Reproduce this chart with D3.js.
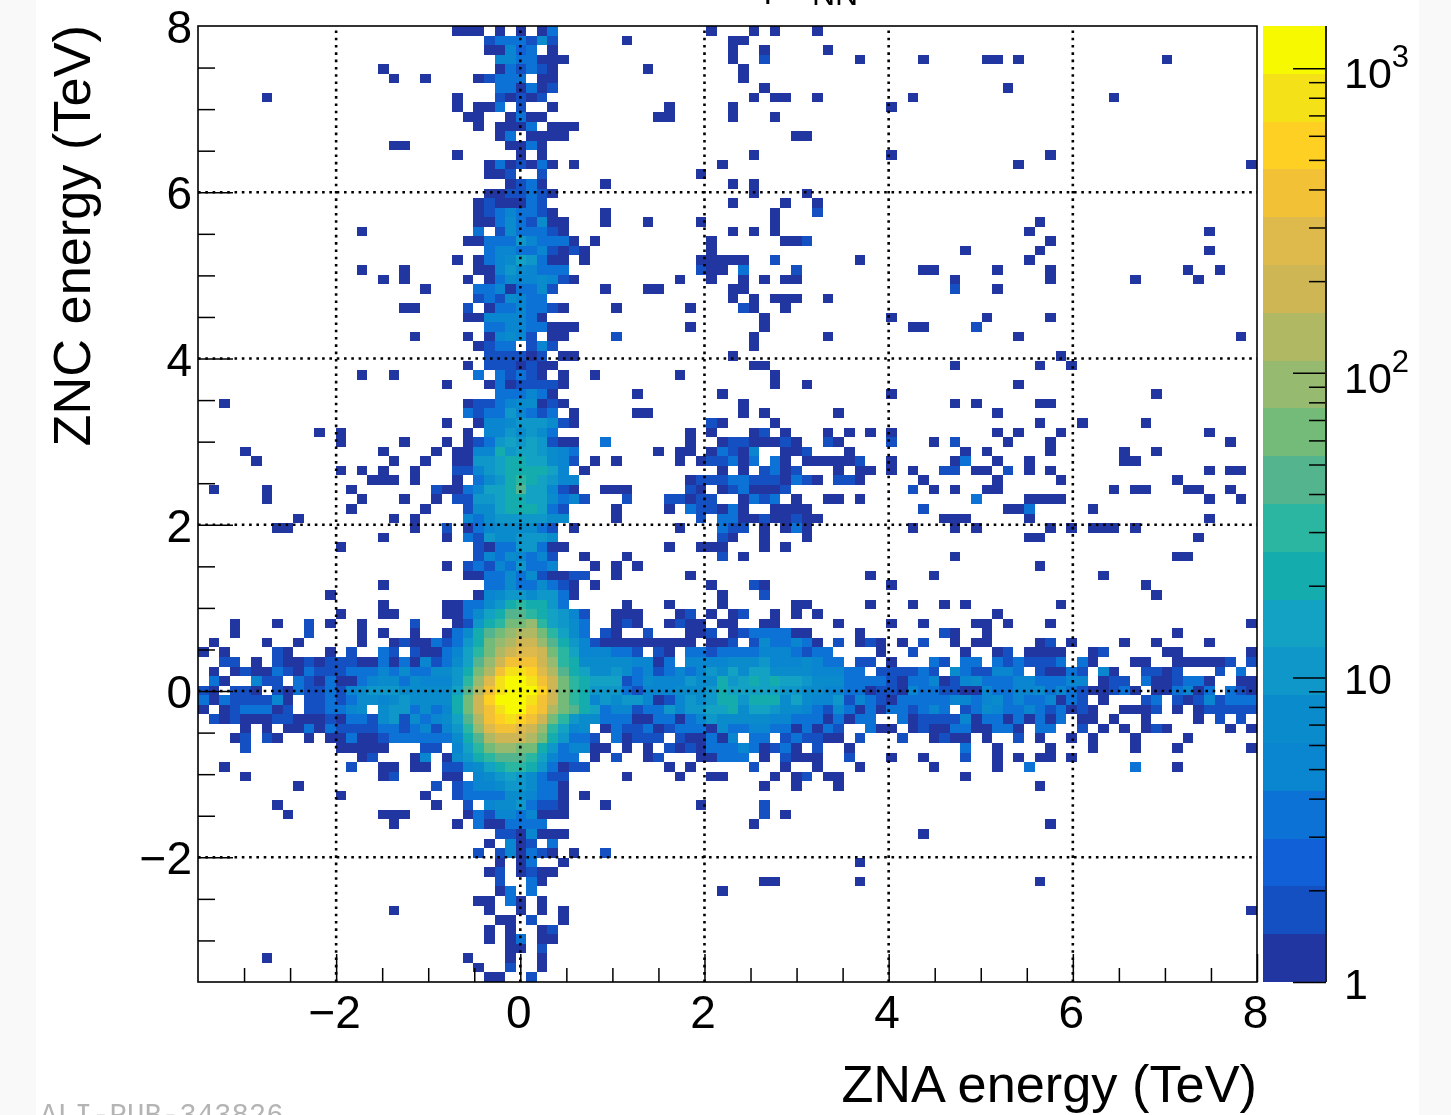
<!DOCTYPE html>
<html>
<head>
<meta charset="utf-8">
<title>ZNA vs ZNC energy</title>
<script src="https://cdn.jsdelivr.net/npm/d3@7"></script>
<style>
  html, body { margin: 0; padding: 0; background: #fff; }
  #chart { display: block; filter: blur(0.55px); }
  text { font-family: "Liberation Sans", Arial, sans-serif; fill: #000; }
  .axis path { display: none; }
  .axis line { stroke: #000; stroke-width: 1.5; }
  .axis text { font-size: 46px; }
  .grid { stroke: #000; stroke-width: 2.6; stroke-dasharray: 2.6 4.7; }
</style>
</head>
<body>
<svg id="chart" width="1451" height="1115"></svg>
<script>
const NBINS = 100;
const xRange = [-3.5, 8];
const yRange = [-3.5, 8];
const zRange = [1, 1376];

const xMajor = [-2, 0, 2, 4, 6, 8];
const xMinor = [-3, -2.5, -1.5, -1, -0.5, 0.5, 1, 1.5, 2.5, 3, 3.5, 4.5, 5, 5.5, 6.5, 7, 7.5];
const yMajor = [-2, 0, 2, 4, 6];
const yMinor = [-3, -2.5, -1.5, -1, -0.5, 0.5, 1, 1.5, 2.5, 3, 3.5, 4.5, 5, 5.5, 6.5, 7, 7.5];
const gridX = [-2, 0, 2, 4, 6];
const gridY = [-2, 0, 2, 4, 6];
const zMajor = [1, 10, 100, 1000];
const zMinor = [2, 3, 4, 5, 6, 7, 8, 9, 20, 30, 40, 50, 60, 70, 80, 90, 200, 300, 400, 500, 600, 700, 800, 900];
const zLabels = [
  { value: 1, base: "1", power: "" },
  { value: 10, base: "10", power: "" },
  { value: 100, base: "10", power: "2" },
  { value: 1000, base: "10", power: "3" },
];

// palette bands, lowest count first
const bandColors = [
  "#2236a2", "#1450c2", "#1260d8", "#0c72d6", "#0a85d0", "#0a8ccc", "#0e97c8", "#13a2c4", "#14acad", "#2ab6a0",
  "#53b48e", "#74bb79", "#95ba70", "#b1b864", "#cdb653", "#deb94c", "#f2c135", "#fdd023", "#f5e118", "#f6f900",
];

// one string per y bin, top row first: "firstColumn:bands", band in base 36, "." is an empty bin
const rows = [
  "24:111.1.1.14 48:1 52:1 54:1 58:1",
  "27:2444262 40:1 50:11",
  "27:11534.1 50:1 53:1 59:1",
  "28:5544111 50:1 53:2 62:1 68:1 74:11 77:1 91:1",
  "17:1 28:142421 42:1 51:1",
  "18:1 21:1 26:12444.11 51:1",
  "28:441412 53:1 76:1",
  "6:1 24:1 28:21212 52:1 54:11 58:1 67:1 86:1",
  "24:1 26:114.2..1 44:1 50:1 65:1",
  "25:11 29:1411 43:11 50:1 54:1",
  "26:1.1114.111",
  "28:14.1111 56:11",
  "18:11 29:1141",
  "24:1 30:1.1 52:1 65:1 80:1",
  "27:1412141 35:1 49:1 77:1 99:1",
  "27:112..2 47:1",
  "29:1241 38:1 50:1 52:1",
  "27:1122421 52:1 57:1",
  "26:1211142 50:1 55:1 58:1",
  "26:12454421 38:1 54:1 58:2",
  "26:114642611 38:1 42:1 47:1 54:1 79:1",
  "15:1 26:4.2644421 50:1 52:1 54:1 78:1 95:1",
  "25:11444754441 37:1 48:1 55:112 80:1",
  "27:4554452121 48:1 72:1 79:1 95:1",
  "24:1 26:145687411.1 47:11111 54:2 62:1 78:1",
  "15:1 19:1 26:115765444 47:211 51:4 56:2 68:11 75:1 80:1 93:1 96:1",
  "17:1 19:1 25:1.146556521 45:1 48:1 51:1 53:1 55:11 71:1 80:1 88:1 94:1",
  "21:1 26:44514462 38:1 42:11 50:11 71:2 75:1",
  "26:2426544 50:1 52:1 54:111 59:1",
  "19:11 25:2.14454421 39:1 46:1 51:21 55:1",
  "25:11555541 53:1 65:1 74:1 80:1",
  "27:445544111 46:1 53:1 67:11 73:2",
  "20:1 25:1.15652.11 39:2 52:1 59:1 77:1 98:1",
  "26:1244.252 52:1",
  "27:222212 34:11 50:1 81:1",
  "25:1.2221211 52:11 71:1 79:1 82:1",
  "15:1 18:1 26:4.42421.1 37:1 45:1 54:1",
  "23:1 27:14122221 54:1 57:1 77:1",
  "28:444541 41:1 49:1 65:1 90:1",
  "2:1 25:1224566121 51:1 71:1 73:1 79:11",
  "25:424475424.1 41:11 51:1 53:1 60:1 75:1",
  "23:1 26:1556777621 48:21 54:1 79:1 83:1 89:1",
  "11:1 13:1 25:1.5576764 46:1 48:1 52:12.1 59:1 61:1 63:1 65:1 75:1 77:1 81:1 95:1",
  "13:1 19:1 23:1 25:12478787211 38:4 46:1 49:12211121 59:21 65:2 69:1 71:2 76:1 80:1 97:1",
  "4:1 17:1 22:1 24:115597887654 43:1 45:11 48:14215..112 61:1 72:1 74:1 80:1 87:1 90:1",
  "5:1 18:1 21:1 24:117789988652 37:1 39:1 45:1 47:122414.41.111112 65:1 71:1 72:4 75:1 78:1 87:11",
  "13:1 15:1 17:1 20:1 24:22578999985.1 49:1.1.2412 60:1 62:11 65:1 67:1 70:22 73:11 76:2 78:1 80:1 95:1 97:11",
  "16:111 20:1 24:1.4679a98755 46:1222442221421 60:221 68:1 75:1 81:1 92:1",
  "1:1 6:1 14:1 22:21145889b88521 38:111 46:21.1241112 67:2 69:1 71:1 74:11 86:1 88:11 93:11 97:1",
  "6:1 15:1 19:1 22:1 24:2277899886452 40:2 44:22122 51:1424 56:1 59:11 62:1 73:4 78:1111 95:1 98:1",
  "14:1 21:1 25:2668999842 39:1 44:1 46:422141 54:1111 68:2 76:114 84:1",
  "9:1 18:1 20:1 25:5467777766 39:1 47:2 49:4411211211 70:111 78:1 95:1",
  "7:11 20:1 23:2 25:145666642.1 45:1 49:422 53:1 55:141 67:1 71:1 73:1 80:1 82:1 84:111 88:1",
  "17:1 23:1 25:427667776 49:21 53:1 57:1 78:11 94:1",
  "13:1 26:214477411 44:1 47:111 53:1 55:1",
  "26:25465452 36:1 40:1 49:2 51:1 71:1 92:11",
  "23:1 25:242547445 37:1 39:1 41:1 79:1",
  "25:114464621122 39:1 46:1 63:1 69:1 85:1",
  "17:1 27:446446421 37:1 48:1 52:21 65:1 89:1",
  "12:1 26:1567767741 49:1 53:2 90:1",
  "17:1 23:1144679a9974 40:1 44:1 49:1 56:11 63:1 67:1 70:1 72:1 81:1",
  "13:1 17:11 23:114689bba98752 39:111 45:12 48:1 50:12 54:1 56:1 58:1 75:1",
  "3:1 7:1 10:2 12:1 15:1 20:2 24:1279accda8764 39:121 44:1211 49:11 53:11 60:1 65:1 68:1 73:11 76:1 80:1 99:1",
  "3:1 10:2 15:1 17:1 20:1 23:1469bcdeeca864 38:21 42:2 46:112.12444411 62:1 70:21 74:1 92:1",
  "1:1 6:1 9:1 15:1 18:121142479cdeffdb97521111111 38:111111111.112.2644541.2.121.1.2..1 73:11 79:12 82:1 87:1 90:1 95:1",
  "0:1 2:1 7:21 12:1 14:2 17:42.211458acefggfca8555442.21.44244445554244 64:1 67:2 72:1 75:12 78:1111 84:12 91:11 99:1",
  "2:22.1.2112122211414152468bdfhhhfda9666665514.555566675556544.22.1 69:42.44.4242224.41 88:11 92:111112 99:2",
  "1:1.1211421422244454 19:6446679cehjjigeb9866764524 5 46:4576868866 56:6655544.222242.6422554.21142.51..2212...2.4 45:5",
  "1:41..522.4214114566 19:465557adgjkkjhfca9888246555 46:76697898988766644442 66:144512564445544455.122.4112441..11",
  "0:21.221.2142242567776 20:66668behjkkkifca9777 40:42555666798888877665 60:54412215442211544556 80:454211241.114514.421",
  "0:414222251.2242466567 20:66669cfikkkjhfca9576 40:77512576799799968655 60:72542144444554564544 80:5142.1...24.21252444",
  "0:1.1244412.224456.677 20:46459cfhjkkihecb98456 40:52447577889688766542 60:64141442454.24654454 80:24121..1112.1.122222",
  "1:212111221 10:11214426726456 24:8behijihfca7 36:6644 40:4114414576 50:66665544414144..4122 70:225144141414.11.1..1 94:1.2.2",
  "4:1.1.114142222442 20:45257adghhgfda85 36:6.14 40:22412444164455441414 60:2..411.12114411441.4 80:4..2.1.1.121 97:1.1",
  "3:12.21..1.114112444444 24:69befffec97442.41222.211415.44.242211.2 66:2 69:1211 74:1 77:2 79:1 82:1 84:1 88:1 93:1",
  "4:2 13:11111 21:22.58acddcc9745511.1.1.2121444541241.2..1 72:4 75:1 80:1 84:1 88:1 92:1 99:1",
  "15:12 20:15.1679abbba8544.1.2 42:12 47:11444.1.2111 61:2 65:1 68:1 72:2 75:1 77:1 79:11 82:1",
  "2:1 14:2 17:11 20:11.225689aa974122 44:1 46:1 52:2 55:1 58:1 62:1 69:1 75:1 78:4 88:4 92:1",
  "4:1 17:12 23:11.567876422 40:1 45:1 48:11 54:1 56:12 59:11 72:1",
  "9:1 22:2.24556776441 53:1 56:1 60:1 79:1",
  "13:1 21:1 24:24444665441.1",
  "7:1 22:1 25:2.56674221 38:1 47:1 53:2",
  "8:1 17:111 25:1425545111 53:2 55:1",
  "18:1 24:1 26:4114444 52:1 80:1",
  "28:2215111 68:1",
  "27:1.512.4",
  "26:2.251421.1 38:2",
  "28:1.14 34:1 62:1",
  "27:12.1211",
  "28:2 31:41 53:11 62:1 79:1",
  "28:14.4 49:1",
  "26:11.41.1",
  "18:1 27:1 30:1 32:1 34:1 99:1",
  "28:11.2..1",
  "27:1 29:1 32:12",
  "27:1 29:14 32:11",
  "29:11 32:2",
  "6:1 25:1 29:1 32:1",
  "26:1 29:2 32:1",
  "27:11 31:2",
];

const margin = { left: 198, right: 1257, top: 26, bottom: 982 };
const bar = { left: 1263, right: 1326 };

const svg = d3.select("#chart");

const x = d3.scaleLinear().domain(xRange).range([margin.left, margin.right]);
const y = d3.scaleLinear().domain(yRange).range([margin.bottom, margin.top]);
const z = d3.scaleLog().domain(zRange).range([margin.bottom, margin.top]);

const binX = (xRange[1] - xRange[0]) / NBINS;
const binY = (yRange[1] - yRange[0]) / NBINS;

function parseRows() {
  const cells = [];
  rows.forEach((row, r) => {
    row.split(" ").filter((s) => s.includes(":")).forEach((segment) => {
      const [start, bands] = segment.split(":");
      [...bands].forEach((ch, i) => {
        if (ch !== ".") cells.push({ col: +start + i, row: r, band: parseInt(ch, 36) });
      });
    });
  });
  return cells;
}

// page margins of the original screenshot
svg.append("rect").attr("x", 0).attr("y", 0).attr("width", 36).attr("height", 1115).attr("fill", "#f9f9f9");
svg.append("rect").attr("x", 1419).attr("y", 0).attr("width", 32).attr("height", 1115).attr("fill", "#f9f9f9");

// Histogram cells
svg.append("g")
  .attr("shape-rendering", "crispEdges")
  .selectAll("rect")
  .data(parseRows())
  .join("rect")
  .attr("x", (d) => x(xRange[0] + d.col * binX))
  .attr("y", (d) => y(yRange[1] - d.row * binY))
  .attr("width", x(binX) - x(0))
  .attr("height", y(0) - y(binY))
  .attr("fill", (d) => bandColors[d.band - 1]);

// Grid
svg.append("g").selectAll("line").data(gridX).join("line")
  .attr("class", "grid")
  .attr("x1", (d) => x(d)).attr("x2", (d) => x(d))
  .attr("y1", margin.bottom).attr("y2", margin.top);
svg.append("g").selectAll("line").data(gridY).join("line")
  .attr("class", "grid")
  .attr("x1", margin.left).attr("x2", margin.right)
  .attr("y1", (d) => y(d)).attr("y2", (d) => y(d));

// Axes
const minus = (v) => String(v).replace("-", "\u2212");

svg.append("g").attr("class", "axis").attr("transform", `translate(0,${margin.bottom})`)
  .call(d3.axisBottom(x).tickValues(xMinor).tickSizeInner(-14).tickSizeOuter(0).tickFormat(""));
svg.append("g").attr("class", "axis").attr("transform", `translate(0,${margin.bottom})`)
  .call(d3.axisBottom(x).tickValues(xMajor).tickSizeInner(-28).tickSizeOuter(0).tickPadding(13).tickFormat(minus))
  .selectAll("text").attr("dx", -2);

svg.append("g").attr("class", "axis").attr("transform", `translate(${margin.left},0)`)
  .call(d3.axisLeft(y).tickValues(yMinor).tickSizeInner(-17).tickSizeOuter(0).tickFormat(""));
svg.append("g").attr("class", "axis").attr("transform", `translate(${margin.left},0)`)
  .call(d3.axisLeft(y).tickValues(yMajor).tickSizeInner(-35).tickSizeOuter(0).tickPadding(7).tickFormat(minus))
  .selectAll("text").attr("dy", "0.36em").attr("dx", 1);

// the "8" on top of the y axis has no tick of its own on the frame
svg.append("text").attr("x", 192).attr("y", y(8) + 17).attr("text-anchor", "end").attr("font-size", 46).text("8");

svg.append("rect")
  .attr("x", margin.left).attr("y", margin.top)
  .attr("width", margin.right - margin.left).attr("height", margin.bottom - margin.top)
  .attr("fill", "none").attr("stroke", "#000").attr("stroke-width", 1.6);

// Palette
const zTop = Math.log10(zRange[1]);
svg.append("g")
  .attr("shape-rendering", "crispEdges")
  .selectAll("rect")
  .data(bandColors)
  .join("rect")
  .attr("x", bar.left)
  .attr("width", bar.right - bar.left)
  .attr("y", (d, i) => z(Math.pow(10, (zTop * (i + 1)) / bandColors.length)))
  .attr("height", (d, i) => z(Math.pow(10, (zTop * i) / bandColors.length)) - z(Math.pow(10, (zTop * (i + 1)) / bandColors.length)))
  .attr("fill", (d) => d);

svg.append("g").attr("class", "axis").attr("transform", `translate(${bar.right},0)`)
  .call(d3.axisRight(z).tickValues(zMinor).tickSizeInner(-17).tickSizeOuter(0).tickFormat(""));
svg.append("g").attr("class", "axis").attr("transform", `translate(${bar.right},0)`)
  .call(d3.axisRight(z).tickValues(zMajor).tickSizeInner(-33).tickSizeOuter(0).tickFormat(""));
svg.append("line")
  .attr("x1", bar.right).attr("x2", bar.right).attr("y1", margin.top).attr("y2", margin.bottom)
  .attr("stroke", "#222").attr("stroke-width", 2);

const zText = svg.append("g").selectAll("text").data(zLabels).join("text")
  .attr("x", 1344)
  .attr("y", (d) => z(d.value) + (d.power ? 20 : 16.5))
  .attr("font-size", 43);
zText.append("tspan").text((d) => d.base);
zText.append("tspan").attr("font-size", 31).attr("dy", -21).text((d) => d.power);

// Titles
svg.append("text").attr("x", 1257).attr("y", 1102).attr("text-anchor", "end").attr("font-size", 52.3)
  .text("ZNA energy (TeV)");
svg.append("text").attr("transform", "translate(90,25) rotate(-90)").attr("text-anchor", "end").attr("font-size", 52.3)
  .text("ZNC energy (TeV)");

// Clipped text at the picture edges
svg.append("text").attr("x", 764).attr("y", -3).attr("font-size", 34).text("p");
svg.append("text").attr("x", 812).attr("y", 5).attr("font-size", 32).text("NN");
svg.append("text").attr("x", 40).attr("y", 1124).attr("font-size", 29)
  .style("font-family", "'Liberation Mono', monospace").style("fill", "#b4b4b4").text("ALI-PUB-343826");
</script>
</body>
</html>
